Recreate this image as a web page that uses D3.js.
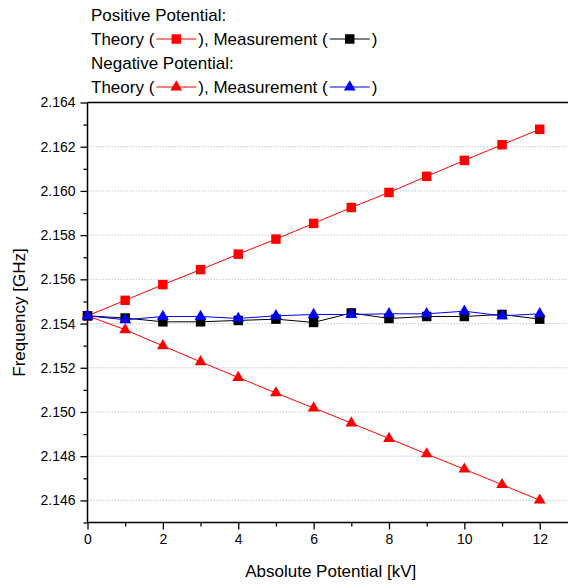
<!DOCTYPE html>
<html>
<head>
<meta charset="utf-8">
<script src="https://cdn.jsdelivr.net/npm/d3@7"></script>
<style>
  html, body { margin: 0; padding: 0; background: #fff; }
  svg { display: block; font-family: Arial, "Liberation Sans", sans-serif; }
</style>
</head>
<body>
<svg id="chart" width="568" height="584"></svg>
<script>
const potentials = [0, 1, 2, 3, 4, 5, 6, 7, 8, 9, 10, 11, 12];
const theoryPositive = [2.15435, 2.15505, 2.15576, 2.15644, 2.15714, 2.15782, 2.15853, 2.15925, 2.15993, 2.16066, 2.16138, 2.16209, 2.16279];
const measPositive   = [2.15435, 2.15425, 2.15408, 2.15408, 2.15414, 2.15420, 2.15405, 2.15448, 2.15423, 2.15432, 2.15432, 2.15441, 2.15420];
const theoryNegative = [2.15435, 2.15372, 2.15299, 2.15227, 2.15156, 2.15086, 2.15018, 2.14950, 2.14880, 2.14810, 2.14741, 2.14671, 2.14601];
const measNegative   = [2.15435, 2.15417, 2.15432, 2.15432, 2.15423, 2.15435, 2.15441, 2.15441, 2.15444, 2.15444, 2.15456, 2.15435, 2.15444];
const xTicks = [0, 2, 4, 6, 8, 10, 12];
const xMinorTicks = [1, 3, 5, 7, 9, 11];
const yTicks = [2.146, 2.148, 2.150, 2.152, 2.154, 2.156, 2.158, 2.160, 2.162, 2.164];
const yMinorTicks = [2.145, 2.147, 2.149, 2.151, 2.153, 2.155, 2.157, 2.159, 2.161, 2.163];
const xLabel = "Absolute Potential [kV]";
const yLabel = "Frequency [GHz]";

(function () {
const svg = d3.select("#chart");
const pl = 87.5, pr = 568, pt = 102.5, pb = 522.5;
const x = d3.scaleLinear().domain([0, 12.75]).range([pl, pr]);
const y = d3.scaleLinear().domain([2.145, 2.164]).range([pb, pt]);

// gridlines
svg.append("g").selectAll("line").data(yTicks.filter(d => d < 2.164)).join("line")
  .attr("x1", pl).attr("x2", pr)
  .attr("y1", d => y(d)).attr("y2", d => y(d))
  .attr("stroke", "#c8c8c8").attr("stroke-width", 1).attr("stroke-dasharray", "1.5,1.5");

// top border
svg.append("line").attr("x1", pl).attr("x2", pr).attr("y1", pt).attr("y2", pt)
  .attr("stroke", "#000").attr("stroke-width", 1.5);

// axes
const xAxis = svg.append("g").attr("transform", `translate(0,${pb})`)
  .call(d3.axisBottom(x).tickValues(xTicks).tickFormat(d3.format("d")).tickSize(7).tickPadding(5));
svg.append("g").attr("transform", `translate(0,${pb})`)
  .call(d3.axisBottom(x).tickValues(xMinorTicks).tickFormat("").tickSize(4))
  .call(g => g.select(".domain").remove());
const yAxis = svg.append("g").attr("transform", `translate(${pl},0)`)
  .call(d3.axisLeft(y).tickValues(yTicks).tickFormat(d3.format(".3f")).tickSize(7).tickPadding(5));
svg.append("g").attr("transform", `translate(${pl},0)`)
  .call(d3.axisLeft(y).tickValues(yMinorTicks).tickFormat("").tickSize(4))
  .call(g => g.select(".domain").remove());

svg.selectAll(".domain").attr("stroke", "#000").attr("stroke-width", 1.5);
svg.selectAll(".tick line").attr("stroke", "#000").attr("stroke-width", 1.3);
svg.selectAll(".tick text").attr("font-size", 14).attr("fill", "#000")
  .attr("font-family", "Arial, 'Liberation Sans', sans-serif");
xAxis.select(".domain").attr("d", `M${pl},0H${pr}`);
yAxis.select(".domain").attr("d", `M0,${pb}V${pt}`);

// axis labels
svg.append("text").attr("x", (pl + pr) / 2 + 3).attr("y", 577)
  .attr("text-anchor", "middle").attr("font-size", 17).text(xLabel);
svg.append("text").attr("transform", `translate(25,${(pt + pb) / 2}) rotate(-90)`)
  .attr("text-anchor", "middle").attr("font-size", 17).text(yLabel);

// series
const series = [
  { values: theoryPositive, color: "#ff0000", lineColor: "#ff0000", shape: d3.symbolSquare, size: 90 },
  { values: theoryNegative, color: "#ff0000", lineColor: "#ff0000", shape: d3.symbolTriangle, size: 60 },
  { values: measPositive, color: "#000000", lineColor: "#000000", shape: d3.symbolSquare, size: 90 },
  { values: measNegative, color: "#0000ff", lineColor: "#0000ff", shape: d3.symbolTriangle, size: 60 }
];
const line = d3.line().x((d, i) => x(potentials[i])).y(d => y(d));
series.forEach(s => {
  svg.append("path").datum(s.values).attr("d", line)
    .attr("fill", "none").attr("stroke", s.lineColor).attr("stroke-width", 1);
  svg.append("g").selectAll("path").data(s.values).join("path")
    .attr("transform", (d, i) => `translate(${x(potentials[i])},${y(d)})`)
    .attr("d", d3.symbol().type(s.shape).size(s.size))
    .attr("fill", s.color);
});

// legend
const legendX = 91;
const legendRows = [
  [{ t: "Positive Potential:" }],
  [{ t: "Theory (" }, { sym: series[0] }, { t: "), Measurement (" }, { sym: series[2] }, { t: ")" }],
  [{ t: "Negative Potential:" }],
  [{ t: "Theory (" }, { sym: series[1] }, { t: "), Measurement (" }, { sym: series[3] }, { t: ")" }]
];
const baselines = [21, 45, 69, 93];
legendRows.forEach((row, r) => {
  let cx = legendX;
  const by = baselines[r];
  row.forEach(item => {
    if (item.t !== undefined) {
      const t = svg.append("text").attr("x", cx).attr("y", by).attr("font-size", 17).attr("fill", "#000").text(item.t);
      cx += t.node().getComputedTextLength();
    } else {
      const s = item.sym;
      const ly = by - 6;
      cx += 2;
      svg.append("line").attr("x1", cx).attr("x2", cx + 40).attr("y1", ly).attr("y2", ly)
        .attr("stroke", s.lineColor).attr("stroke-width", 1);
      svg.append("path").attr("transform", `translate(${cx + 20},${ly})`)
        .attr("d", d3.symbol().type(s.shape).size(s.size)).attr("fill", s.color);
      cx += 42;
    }
  });
});
})();
</script>
</body>
</html>
